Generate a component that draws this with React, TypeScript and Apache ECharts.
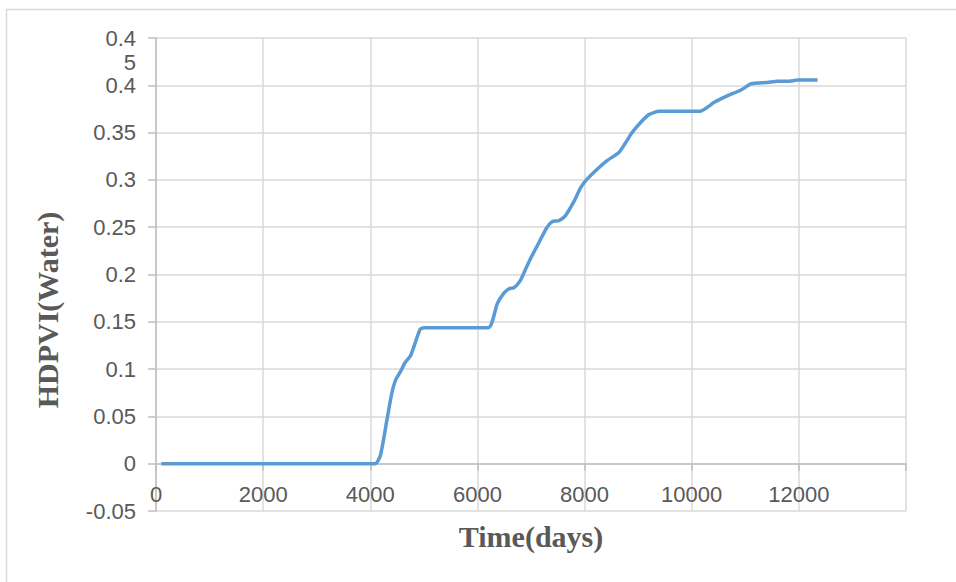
import React, { useEffect, useRef } from "react";
import * as echarts from "echarts";

const days = [
  100, 4090, 4190, 4310, 4400, 4470, 4560, 4650, 4750, 4840, 4930, 5000, 6200,
  6370, 6490, 6590, 6680, 6800, 6930, 7020, 7150, 7300, 7400, 7520, 7640, 7800,
  7930, 8050, 8240, 8420, 8640, 8770, 8890, 9050, 9200, 9390, 10150, 10420,
  10670, 10920, 11100, 11230, 11410, 11600, 11790, 11980, 12350,
];
const hdpvi = [
  0, 0, 0.009, 0.046, 0.074, 0.088, 0.097, 0.107, 0.114, 0.128, 0.142, 0.1437,
  0.1437, 0.169, 0.18, 0.185, 0.186, 0.1936, 0.2095, 0.22, 0.234, 0.25, 0.256,
  0.257, 0.262, 0.277, 0.292, 0.301, 0.3116, 0.3204, 0.329, 0.3397, 0.3503,
  0.361, 0.369, 0.3725, 0.3725, 0.382, 0.389, 0.395, 0.4014, 0.4025, 0.403,
  0.4042, 0.4042, 0.4056, 0.4056,
];
const xTitle = "Time(days)";
const yTitle = "HDPVI(Water)";
const hiddenXTicks = [14000];

export default function App() {
  const ref = useRef<HTMLDivElement>(null);
  useEffect(() => {
    document.body.style.margin = "0";
    if (!ref.current) return;
    const chart = echarts.init(ref.current, null, { renderer: "svg" });
    const labelColor = "#595959";
    const gridColor = "#d9d9d9";
    const axisColor = "#bfbfbf";
    const gridTop = 38;
    const gridBottomPx = 511;
    const zeroOffset = -((gridBottomPx - gridTop) * 0.05) / 0.5;
    chart.setOption({
      animation: false,
      backgroundColor: "#ffffff",
      grid: {
        left: 156,
        top: gridTop,
        right: 50,
        bottom: 582 - gridBottomPx,
        containLabel: false,
        outerBoundsMode: "none",
      },
      xAxis: {
        type: "value",
        min: 0,
        max: 14000,
        interval: 2000,
        position: "bottom",
        offset: zeroOffset,
        name: xTitle,
        nameLocation: "middle",
        nameGap: 58,
        nameMoveOverlap: false,
        nameTextStyle: {
          fontFamily: "Liberation Serif",
          fontWeight: "bold",
          fontSize: 30,
          color: labelColor,
        },
        axisLine: { show: true, onZero: false, lineStyle: { color: axisColor, width: 1.5 } },
        axisTick: { show: true, length: 7, lineStyle: { color: axisColor, width: 1.5 } },
        axisLabel: {
          margin: 20,
          fontFamily: "Liberation Sans",
          fontSize: 22,
          color: labelColor,
          formatter: (v: number) => (hiddenXTicks.includes(v) ? "" : String(v)),
        },
        splitLine: { show: true, lineStyle: { color: gridColor, width: 1.5 } },
      },
      yAxis: {
        type: "value",
        min: -0.05,
        max: 0.45,
        interval: 0.05,
        axisLine: { show: true, onZero: false, lineStyle: { color: axisColor, width: 1.5 } },
        axisTick: { show: true, length: 8, lineStyle: { color: axisColor, width: 1.5 } },
        axisLabel: {
          margin: 20,
          fontFamily: "Liberation Sans",
          fontSize: 22,
          color: labelColor,
          formatter: (v: number) => {
            const r = Math.round(v * 100) / 100;
            if (Math.abs(r - 0.45) < 1e-6) return "";
            return String(r);
          },
        },
        splitLine: { show: true, lineStyle: { color: gridColor, width: 1.5 } },
      },
      graphic: [
        {
          type: "rect",
          shape: { x: 6.5, y: 9.5, width: 980, height: 600 },
          style: { fill: "none", stroke: gridColor, lineWidth: 1.5 },
          silent: true,
        },
        {
          type: "text",
          x: 136,
          y: 26,
          style: {
            text: "0.4\n5",
            fontFamily: "Liberation Sans",
            fontSize: 22,
            lineHeight: 24,
            fill: labelColor,
            align: "right",
            verticalAlign: "top",
          },
        },
        {
          type: "text",
          x: 47,
          y: 310,
          rotation: Math.PI / 2,
          style: {
            text: yTitle,
            fontFamily: "Liberation Serif",
            fontWeight: "bold",
            fontSize: 30,
            fill: labelColor,
            align: "center",
            verticalAlign: "middle",
          },
        },
      ],
      series: [
        {
          type: "line",
          data: days.map((d, i) => [d, hdpvi[i]]),
          showSymbol: false,
          smooth: 0.2,
          lineStyle: { color: "#5b9bd5", width: 3.5 },
          itemStyle: { color: "#5b9bd5" },
        },
      ],
    });
    return () => chart.dispose();
  }, []);
  return <div ref={ref} style={{ width: 956, height: 582 }} />;
}
